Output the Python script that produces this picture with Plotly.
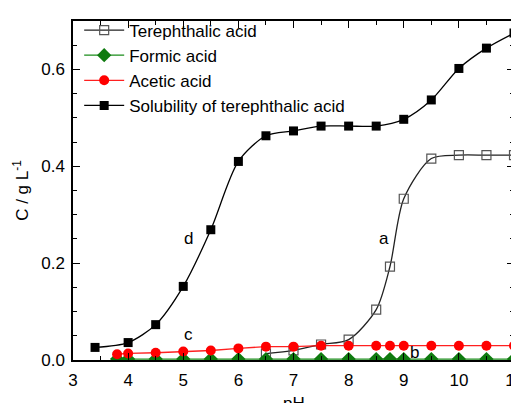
import plotly.graph_objects as go

# pH values
ph_sol = [3.4, 4, 4.5, 5, 5.5, 6, 6.5, 7, 7.5, 8, 8.5, 9, 9.5, 10, 10.5, 11]
sol = [0.026, 0.036, 0.073, 0.152, 0.269, 0.410, 0.463, 0.473, 0.483, 0.483, 0.483, 0.497, 0.537, 0.602, 0.644, 0.675]

ph_ta = [6.5, 7, 7.5, 8, 8.5, 8.75, 9, 9.5, 10, 10.5, 11]
ta = [0.013, 0.020, 0.032, 0.042, 0.104, 0.193, 0.333, 0.416, 0.423, 0.423, 0.423]

ph_acid = [3.8, 4, 4.5, 5, 5.5, 6, 6.5, 7, 7.5, 8, 8.5, 8.75, 9, 9.5, 10, 10.5, 11]
acetic = [0.012, 0.0135, 0.015, 0.0175, 0.0196, 0.024, 0.0276, 0.0276, 0.0296, 0.0296, 0.0296, 0.0296,
          0.0296, 0.0296, 0.0296, 0.0296, 0.0296]
formic = [0.002] * len(ph_acid)

labels = [("a", 8.64, 0.25), ("b", 9.2, 0.015), ("c", 5.1, 0.052), ("d", 5.1, 0.25)]

FONT = "Liberation Sans, Arial, sans-serif"
FS = 17

fig = go.Figure()
fig.add_trace(go.Scatter(
    x=ph_ta, y=ta, name="Terephthalic acid", mode="lines+markers",
    line=dict(color="#222222", width=1.3, shape="spline", smoothing=0.8),
    marker=dict(symbol="square-open", size=9, color="#555555", line=dict(width=1.2)),
    cliponaxis=False))
fig.add_trace(go.Scatter(
    x=ph_acid, y=formic, name="Formic acid", mode="lines+markers",
    line=dict(color="#1a8c1a", width=1.3),
    marker=dict(symbol="diamond", size=11, color="#0f7a0f"),
    cliponaxis=True))
fig.add_trace(go.Scatter(
    x=ph_acid, y=acetic, name="Acetic acid", mode="lines+markers",
    line=dict(color="#ff2020", width=1.3),
    marker=dict(symbol="circle", size=10, color="#ff0000"),
    cliponaxis=False))
fig.add_trace(go.Scatter(
    x=ph_sol, y=sol, name="Solubility of terephthalic acid", mode="lines+markers",
    line=dict(color="#000000", width=1.3, shape="spline", smoothing=0.8),
    marker=dict(symbol="square", size=9, color="#000000"),
    cliponaxis=False))

for t, x, y in labels:
    fig.add_annotation(x=x, y=y, text=t, showarrow=False,
                       font=dict(family=FONT, size=FS, color="#000"))

# x-axis title, sitting low so that it is partly cut by the bottom edge as in the reference
fig.add_annotation(x=0.5, y=-0.093, xref="paper", yref="paper", text="pH",
                   showarrow=False, xanchor="center", yanchor="top",
                   font=dict(family=FONT, size=FS, color="#000"))

axis_common = dict(
    showline=True, linecolor="#000", linewidth=1.5, mirror="ticks",
    ticks="inside", ticklen=7, tickwidth=1.2, tickcolor="#000",
    showgrid=False, zeroline=False, automargin=False,
    ticklabeloverflow="allow",
    tickfont=dict(family=FONT, size=FS, color="#000"),
)

fig.update_xaxes(range=[3, 11], dtick=1, tick0=3, ticklabelstandoff=4,
                 minor=dict(dtick=0.5, ticks="inside", ticklen=4, tickcolor="#000"),
                 **axis_common)
fig.update_yaxes(range=[0, 0.7], dtick=0.2, tick0=0, tickformat=".1f", ticklabelstandoff=3,
                 minor=dict(dtick=0.05, ticks="inside", ticklen=4, tickcolor="#000"),
                 title=dict(text="C / g L<sup>-1</sup>", font=dict(family=FONT, size=FS, color="#000"), standoff=8),
                 **axis_common)

# page body has an 8px margin: figure sits at (8, 8) in the 519x403 window
fig.update_layout(
    width=511, height=395,
    margin=dict(l=65, r=5, t=6, b=43),
    paper_bgcolor="white", plot_bgcolor="white",
    font=dict(family=FONT, size=FS, color="#000"),
    legend=dict(x=0.014, y=1.025, xanchor="left", yanchor="top",
                bgcolor="rgba(0,0,0,0)", itemwidth=40, tracegroupgap=0,
                font=dict(family=FONT, size=FS, color="#000")),
)

fig.write_html("out.html")
